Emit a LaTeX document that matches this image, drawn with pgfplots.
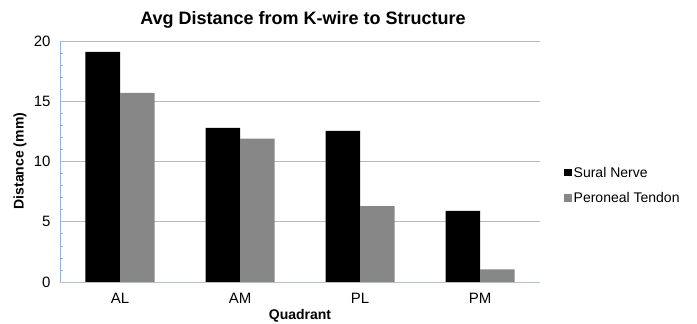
\documentclass[border=0pt]{standalone}
\usepackage{pgfplots}
\pgfplotsset{compat=1.18}
\usepackage{fontspec}
\setmainfont{Liberation Sans}
\definecolor{barblack}{RGB}{0,0,0}
\definecolor{bargray}{RGB}{135,135,135}
\definecolor{gridc}{RGB}{185,185,185}
\definecolor{spine}{RGB}{149,179,215}
\definecolor{bottomspine}{RGB}{180,190,205}
\begin{document}
\begin{tikzpicture}[x=1pt,y=1pt]
\useasboundingbox (0,0) rectangle (697,324);
\begin{axis}[
  at={(60pt,42pt)}, anchor=south west,
  scale only axis, width=480pt, height=241pt,
  ybar=0pt, bar width=34.5pt,
  xmin=-0.5, xmax=3.5, ymin=0, ymax=20,
  xtick={0,1,2,3}, xticklabels={AL,AM,PL,PM},
  ytick={0,5,10,15,20},
  minor y tick num=4,
  ymajorgrids, major grid style={gridc, line width=0.8pt},
  axis x line*=bottom, axis y line*=left,
  x axis line style={bottomspine, line width=0.8pt, -},
  y axis line style={spine, line width=0.8pt, -},
  xtick style={draw=none},
  major tick length=0pt,
  minor tick length=3pt,
  minor y tick style={spine, line width=0.6pt},
  tick align=inside,
  /pgf/number format/assume math mode=true,
  ticklabel style={font=\fontsize{15}{17}\selectfont},
  xticklabel style={yshift=-8pt},
  yticklabel style={xshift=-6pt},
  legend style={at={(1.05,0.40)}, anchor=west, draw=none, fill=none,
    font=\fontsize{14}{16}\selectfont, row sep=10pt, inner sep=0pt},
  legend cell align=left,
  legend image code/.code={\fill[#1] (0pt,-3.5pt) rectangle (7.5pt,4pt);},
]
\addplot[fill=barblack, draw=none] coordinates {(0,19.1) (1,12.8) (2,12.55) (3,5.9)};
\addplot[fill=bargray, draw=none] coordinates {(0,15.7) (1,11.9) (2,6.3) (3,1.05)};
\legend{Sural Nerve, Peroneal Tendon}
\end{axis}
\node[font=\bfseries\fontsize{18}{20}\selectfont] at (303,304) {Avg Distance from K-wire to Structure};
\node[font=\bfseries\fontsize{14}{16}\selectfont, rotate=90] at (20,163) {Distance (mm)};
\node[font=\bfseries\fontsize{14}{16}\selectfont, inner sep=0pt] at (300,8) {Quadrant};
\end{tikzpicture}
\end{document}
